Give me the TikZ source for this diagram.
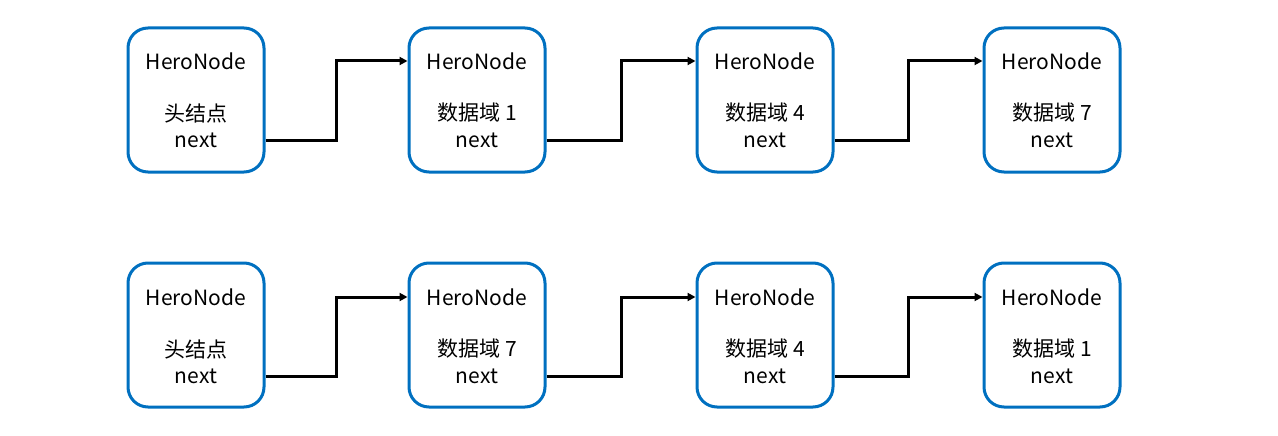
\documentclass[tikz,border=0pt]{standalone}
\usepackage{fontspec}
\setmainfont{Noto Sans CJK SC}
\usetikzlibrary{arrows.meta,calc}
\definecolor{boxblue}{HTML}{0070C0}
\tikzset{
  herobox/.style={draw=boxblue, line width=3pt, rounded corners=20pt, minimum width=136pt, minimum height=144pt, inner sep=0pt},
  txt/.style={inner sep=0pt, font=\fontsize{21}{25}\selectfont, anchor=center},
  arr/.style={line width=3pt, -{Triangle[length=8pt,width=8pt]}},
}
\begin{document}
\begin{tikzpicture}[x=1pt,y=-1pt]
\useasboundingbox (0,0) rectangle (1278,436);
% top row
\foreach \i/\x/\d in {1/196/头结点,2/477/数据域 1,3/765/数据域 4,4/1052/数据域 7}{
  \node[herobox] (t\i) at (\x,100) {};
  \node[txt] (th\i) at (\x,61) {HeroNode};
  \node[txt] (td\i) at (\x,113) {\d};
  \node[txt] (tn\i) at (\x,140) {next};
}
% bottom row
\foreach \i/\x/\d in {1/196/头结点,2/477/数据域 7,3/765/数据域 4,4/1052/数据域 1}{
  \node[herobox] (b\i) at (\x,335) {};
  \node[txt] (bh\i) at (\x,297) {HeroNode};
  \node[txt] (bd\i) at (\x,349) {\d};
  \node[txt] (bn\i) at (\x,376) {next};
}
\foreach \r in {t,b}{
  \foreach \i/\j in {1/2,2/3,3/4}{
    \coordinate (s\r\i) at (\r\i.east |- \r n\i);
    \coordinate (e\r\i) at (\r\j.west |- \r h\j);
    \draw[arr] (s\r\i) -| ($(s\r\i)!.5!(e\r\i)$) |- (e\r\i);
  }
}
\end{tikzpicture}
\end{document}
